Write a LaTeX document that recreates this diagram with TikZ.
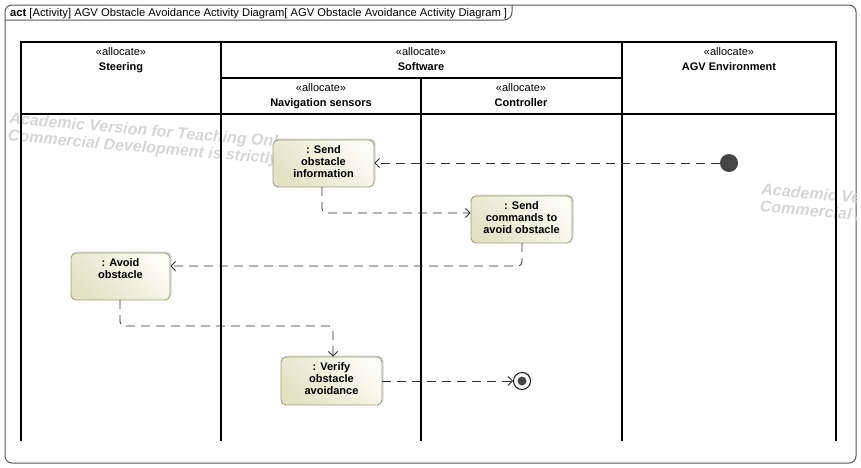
\documentclass[tikz,border=0pt]{standalone}
\usepackage{fontspec}
\setmainfont{Liberation Sans}
\usetikzlibrary{arrows.meta,shadows}
\definecolor{frame}{HTML}{555555}
\definecolor{actborder}{HTML}{9E9E7E}
\definecolor{acttop}{HTML}{E2E2C4}
\definecolor{actbot}{HTML}{FCFCF6}
\definecolor{flowc}{HTML}{2E2E2E}
\definecolor{wmark}{HTML}{D6D6D6}
\definecolor{initc}{HTML}{454545}
\tikzset{
  lane/.style={line width=1.8pt, black},
  actbox/.style={draw=actborder, line width=0.9pt, rounded corners=5pt,
    top color=acttop, bottom color=actbot, shading angle=135,
    drop shadow={shadow xshift=1.5pt, shadow yshift=1.5pt, fill=black!25, opacity=0.6},
    inner sep=0pt},
  acttext/.style={font=\fontsize{11}{12.3}\selectfont\bfseries, align=center, anchor=north},
  flow/.style={draw=flowc, line width=0.85pt, dash pattern=on 9pt off 6pt,
    rounded corners=4pt, -{Straight Barb[length=4.5pt,width=9pt]}},
  hdr/.style={font=\fontsize{11}{15}\selectfont, align=center, anchor=north},
  wm/.style={font=\fontsize{16}{17}\selectfont\bfseries\itshape, text=wmark, align=left, anchor=north west, rotate=-5, inner sep=0pt}
}
\begin{document}
\begin{tikzpicture}[x=1pt,y=-1pt]
\useasboundingbox (0,0) rectangle (861,467);
% outer frame
\draw[frame, line width=1pt, rounded corners=7pt] (5,5) rectangle (856,463);
% watermarks (behind everything)
\begin{scope}
  \clip[rounded corners=7pt] (5,5) rectangle (856,463);
  \node[wm] (wm1) at (10,112) {Academic Version for Teaching Only\\Commercial Development is strictly Prohibited};
  \node[wm] (wm2) at (762,183) {Academic Version for Teaching Only\\Commercial Development is strictly Prohibited};
\end{scope}
% title tab
\draw[frame, line width=1pt] (5,20) -- (504,20) to[out=0,in=-90] (512,12) -- (512,5);
\node[anchor=west, inner sep=0pt, font=\fontsize{11.2}{12}\selectfont] (title) at (10,13.5)
  {\textbf{act} [Activity] AGV Obstacle Avoidance Activity Diagram[ AGV Obstacle Avoidance Activity Diagram ]};
% swimlanes
\draw[lane] (21,441) -- (21,42) -- (836,42) -- (836,441);
\draw[lane] (21,114) -- (836,114);
\draw[lane] (221,42) -- (221,441);
\draw[lane] (622,42) -- (622,441);
\draw[lane] (421,78) -- (421,441);
\draw[lane] (221,78) -- (622,78);
% headers
\node[hdr] (hSteer) at (121,44) {«allocate»\\\textbf{Steering}};
\node[hdr] (hSoft) at (421,44) {«allocate»\\\textbf{Software}};
\node[hdr] (hEnv) at (729,44) {«allocate»\\\textbf{AGV Environment}};
\node[hdr] (hNav) at (321,80) {«allocate»\\\textbf{Navigation sensors}};
\node[hdr] (hCtrl) at (521,80) {«allocate»\\\textbf{Controller}};
% actions
\node[actbox, minimum width=101pt, minimum height=47pt] (send) at (323.5,163.5) {};
\node[acttext] at (send.north) [yshift=-2pt] {: Send\\obstacle\\information};
\node[actbox, minimum width=101pt, minimum height=47pt] (cmd) at (521.5,219.5) {};
\node[acttext] at (cmd.north) [yshift=-2pt] {: Send\\commands to\\avoid obstacle};
\node[actbox, minimum width=99pt, minimum height=47pt] (avoid) at (120.5,276.5) {};
\node[acttext] at (avoid.north) [yshift=-2pt] {: Avoid\\obstacle};
\node[actbox, minimum width=101pt, minimum height=48pt] (verify) at (331.5,381) {};
\node[acttext] at (verify.north) [yshift=-2pt] {: Verify\\obstacle\\avoidance};
% initial and final
\node[circle, fill=initc, minimum size=18pt, inner sep=0pt] (init) at (729,163) {};
\node[circle, draw=black, line width=0.9pt, fill=white, minimum size=17pt, inner sep=0pt,
  drop shadow={shadow xshift=1.2pt, shadow yshift=1.2pt, fill=black!25, opacity=0.6}] (final) at (522,381) {};
\node[circle, fill=initc, minimum size=9pt, inner sep=0pt] (finalin) at (final) {};
% flows
\draw[flow] (init.west) -- (send.east |- init.west);
\draw[flow] (322,187) -- (322,213) -- (cmd.west |- 0,213);
\draw[flow] (522,243) -- (522,266) -- (avoid.east |- 0,266);
\draw[flow] (120,300) -- (120,326) -- (333,326) -- (verify.north -| 333,0);
\draw[flow] (verify.east |- final.west) -- (final.west);
\end{tikzpicture}
\end{document}
